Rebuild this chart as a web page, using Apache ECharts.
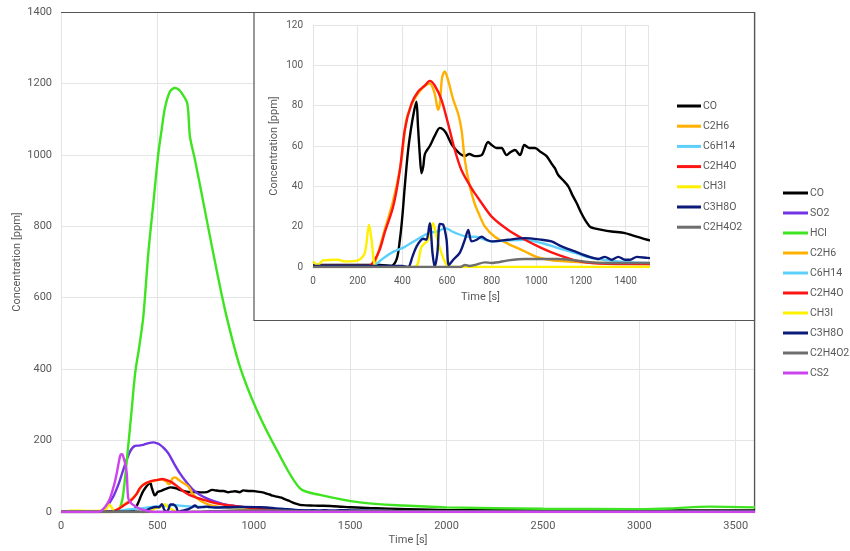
<!DOCTYPE html>
<html>
<head>
<meta charset="utf-8">
<script src="https://cdn.jsdelivr.net/npm/echarts@6/dist/echarts.min.js"></script>
<style>html,body{margin:0;padding:0;background:#fff}#c{width:850px;height:551px}</style>
</head>
<body>
<div id="c"></div>
<script>
// ---- data: [time s, concentration ppm] ----
const CO = [[0,1],[300,1],[351,0.5],[375,4],[389,13.5],[400,25],[411,40],[425,57],[438,68],[452,77],[463,82],[470,70],[478,56],[486,46.5],[494,50],[501,56],[523,60],[545,65],[568,69],[585,68],[598,66],[620,61],[650,57],[680,55],[700,56],[725,55],[755,55.5],[784,62],[800,60.5],[822,59],[844,59],[867,55.5],[885,57],[904,58],[927,55.5],[946,60.5],[960,59.5],[971,59],[994,59],[1020,57],[1046,55],[1070,51],[1083,49],[1098,45.6],[1120,43],[1143,40],[1160,36],[1181,31.6],[1200,27],[1218,23.4],[1240,20],[1255,19.3],[1293,18.4],[1337,17.6],[1397,16.8],[1457,14.8],[1497,13.5],[1600,11],[1800,8],[2000,6],[2500,5],[3000,4],[3600,4]];
const SO2 = [[0,0],[202,0],[230,10],[271,43],[300,80],[323,118],[358,169],[384,185],[405,186],[427,188],[455,193],[479,195],[500,192],[514,188],[535,178],[557,164],[585,137],[617,108],[650,84],[686,62],[720,48],[756,38],[800,29],[842,22],[900,17],[963,13],[1050,9],[1136,6],[1300,4],[1500,3],[2000,2],[3600,1]];
const HCl = [[0,0],[280,0],[300,5],[320,40],[340,137],[365,277],[385,390],[405,460],[427,547],[453,725],[479,865],[505,1004],[522,1070],[539,1131],[565,1177],[591,1187],[610,1183],[626,1173],[655,1144],[669,1051],[695,986],[756,818],[807,678],[859,547],[928,407],[1015,286],[1119,174],[1240,66],[1343,48],[1551,27],[1774,18],[2000,13],[2500,9],[3000,8],[3160,10],[3360,15],[3600,13]];
const C2H6 = [[0,0],[260,0],[291,7],[320,18],[359,33],[396,53],[418,73],[440,80],[456,83.6],[493,89],[523,91],[545,86],[560,78],[568,81],[578,94],[590,97],[605,92.6],[628,83],[650,76],[665,68],[680,53],[702,40],[725,31],[740,27],[770,20],[814,15],[874,11.5],[949,7.7],[1001,5],[1053,3.6],[1113,3],[1300,2],[1500,1.5],[3600,1]];
const C6H14 = [[0,0.5],[260,0.5],[290,2],[306,3.6],[351,7],[411,10],[471,14],[523,17],[560,17.6],[590,19.3],[635,17],[695,15],[725,15],[800,12.7],[874,13.2],[949,13.5],[1024,11.9],[1098,9.4],[1173,7],[1248,4.4],[1323,3.3],[1397,2.5],[1497,2],[2000,1],[3600,1]];
const C2H4O = [[0,0.5],[250,0.5],[277,3.6],[300,9],[321,17],[359,30],[389,48],[411,68],[441,81],[471,87],[501,90],[523,92.3],[545,90],[575,83],[605,71],[635,58],[665,48],[710,39],[725,36.5],[747,33],[800,25],[874,18.4],[949,13.5],[1024,9.4],[1098,6],[1173,3.3],[1248,2],[1397,1.5],[1500,1.5],[3600,1]];
const CH3I = [[0,2.8],[22,1],[45,3.3],[112,3.6],[142,2.8],[202,3.3],[232,7],[251,21],[262,13.5],[277,0.3],[290,0],[456,0],[486,10],[516,13.5],[538,21.7],[553,15],[575,7],[598,1],[620,0],[3600,0]];
const C3H8O = [[0,0.5],[400,0.5],[426,0],[445,5],[463,10],[493,14],[508,13.5],[523,21.7],[535,7],[545,0],[557,7],[568,21.4],[583,21],[598,13.5],[608,1],[628,3.6],[657,7],[680,13.5],[695,18.4],[710,12.7],[733,13.5],[755,15],[777,13.5],[800,12.7],[874,13.5],[949,14.3],[1024,13.5],[1068,12.7],[1113,10.2],[1173,7.7],[1233,5.2],[1278,4],[1307,5],[1337,3.6],[1367,5],[1397,3.6],[1420,3.6],[1450,5],[1497,4.5],[1700,3],[2000,2],[3600,2]];
const C2H4O2 = [[0,0],[660,0],[680,1],[700,0.5],[725,1],[770,2.3],[800,2],[874,3.3],[949,4],[1098,4],[1173,3.3],[1248,2.3],[1323,2],[1500,2],[3600,1.5]];
const CS2 = [[0,0],[195,0],[230,15],[254,38],[275,75],[289,108],[300,140],[309,160],[318,162],[323,155],[333,135],[341,109],[349,38],[365,24],[384,17],[410,9],[444,4],[480,0],[3600,0]];

const mainNames = ['CO','SO2','HCl','C2H6','C6H14','C2H4O','CH3I','C3H8O','C2H4O2','CS2'];
const insetNames = ['CO','C2H6','C6H14','C2H4O','CH3I','C3H8O','C2H4O2'];
const dataMap = {CO, SO2, HCl, C2H6, C6H14, C2H4O, CH3I, C3H8O, C2H4O2, CS2};
const colors = {CO:'#000000', SO2:'#7334e4', HCl:'#3ee420', C2H6:'#ffb000', C6H14:'#5cd0fa', C2H4O:'#ff1414', CH3I:'#fff000', C3H8O:'#0b1a78', C2H4O2:'#6e6e6e', CS2:'#cc44ee'};

const mainTicksX = {min:0, max:3600, interval:500};
const mainTicksY = {min:0, max:1400, interval:200};
const insetTicksX = {min:0, max:1500, interval:200};
const insetTicksY = {min:0, max:120, interval:20};

const FONT = 'Roboto, "Noto Sans", sans-serif';
const TXT = '#595959';
const GRID = '#e3e6e6';
const fmt = v => String(v);

const chart = echarts.init(document.getElementById('c'), null, {renderer:'canvas'});

function mk(name, idx, z){
  return {
    name, type:'line', xAxisIndex:idx, yAxisIndex:idx, data:dataMap[name],
    showSymbol:false, smooth:0.3, clip:true,
    lineStyle:{color:colors[name], width:2.4}, itemStyle:{color:colors[name]},
    z, animation:false
  };
}

const series = [];
mainNames.forEach(n => series.push(mk(n, 0, 2)));
insetNames.forEach(n => series.push(mk(n, 1, 12)));

function axisCommon(){
  return {
    axisLine:{show:true, lineStyle:{color:'#cfcfcf', width:1}},
    axisTick:{show:false},
    splitLine:{show:true, lineStyle:{color:GRID, width:1}},
    nameMoveOverlap:false,
  };
}

const option = {
  animation:false,
  backgroundColor:'#ffffff',
  grid:[
    {left:61, right:95, top:12, bottom:39, containLabel:false, outerBoundsMode:'none'},
    {left:313, width:335, top:25, height:242, containLabel:false, outerBoundsMode:'none', z:10}
  ],
  xAxis:[
    Object.assign(axisCommon(), {type:'value', gridIndex:0, ...mainTicksX, name:'Time [s]', nameLocation:'middle', nameGap:23,
      nameTextStyle:{color:TXT, fontFamily:FONT, fontSize:11},
      axisLabel:{color:TXT, fontFamily:FONT, fontSize:11, margin:9, showMaxLabel:false, formatter:fmt}}),
    Object.assign(axisCommon(), {type:'value', gridIndex:1, ...insetTicksX, name:'Time [s]', nameLocation:'middle', nameGap:25, z:10,
      nameTextStyle:{color:TXT, fontFamily:FONT, fontSize:11},
      axisLabel:{color:TXT, fontFamily:FONT, fontSize:10, margin:9, showMaxLabel:false, formatter:fmt}})
  ],
  yAxis:[
    Object.assign(axisCommon(), {type:'value', gridIndex:0, ...mainTicksY, name:'Concentration [ppm]', nameLocation:'middle', nameGap:38,
      axisLine:{show:false},
      nameTextStyle:{color:TXT, fontFamily:FONT, fontSize:11},
      axisLabel:{color:TXT, fontFamily:FONT, fontSize:11, margin:9, formatter:fmt}}),
    Object.assign(axisCommon(), {type:'value', gridIndex:1, ...insetTicksY, name:'Concentration [ppm]', nameLocation:'middle', nameGap:33, z:10,
      axisLine:{show:false},
      nameTextStyle:{color:TXT, fontFamily:FONT, fontSize:11},
      axisLabel:{color:TXT, fontFamily:FONT, fontSize:10, margin:10, formatter:fmt}})
  ],
  legend:[
    {data:mainNames, orient:'vertical', left:783, top:187, padding:0, itemWidth:25, itemHeight:3, itemGap:8, icon:'rect',
      textStyle:{color:TXT, fontFamily:FONT, fontSize:10.5, lineHeight:12, padding:[0,0,0,-3]}, selectedMode:false, z:20},
    {data:insetNames, orient:'vertical', left:677, top:100, padding:0, itemWidth:24, itemHeight:3, itemGap:8.2, icon:'rect',
      textStyle:{color:TXT, fontFamily:FONT, fontSize:10.5, lineHeight:12, padding:[0,0,0,-3]}, selectedMode:false, z:20}
  ],
  graphic:[
    {type:'line', z:1, shape:{x1:61, y1:12.5, x2:755, y2:12.5}, style:{stroke:'#555', lineWidth:1.2}},
    {type:'line', z:1, shape:{x1:754.5, y1:12, x2:754.5, y2:512}, style:{stroke:'#555', lineWidth:1.2}},
    {type:'rect', z:5, shape:{x:254, y:12.5, width:500.5, height:308}, style:{fill:'#ffffff', stroke:'#555', lineWidth:1.2}}
  ],
  series
};
chart.setOption(option);
</script>
</body>
</html>
